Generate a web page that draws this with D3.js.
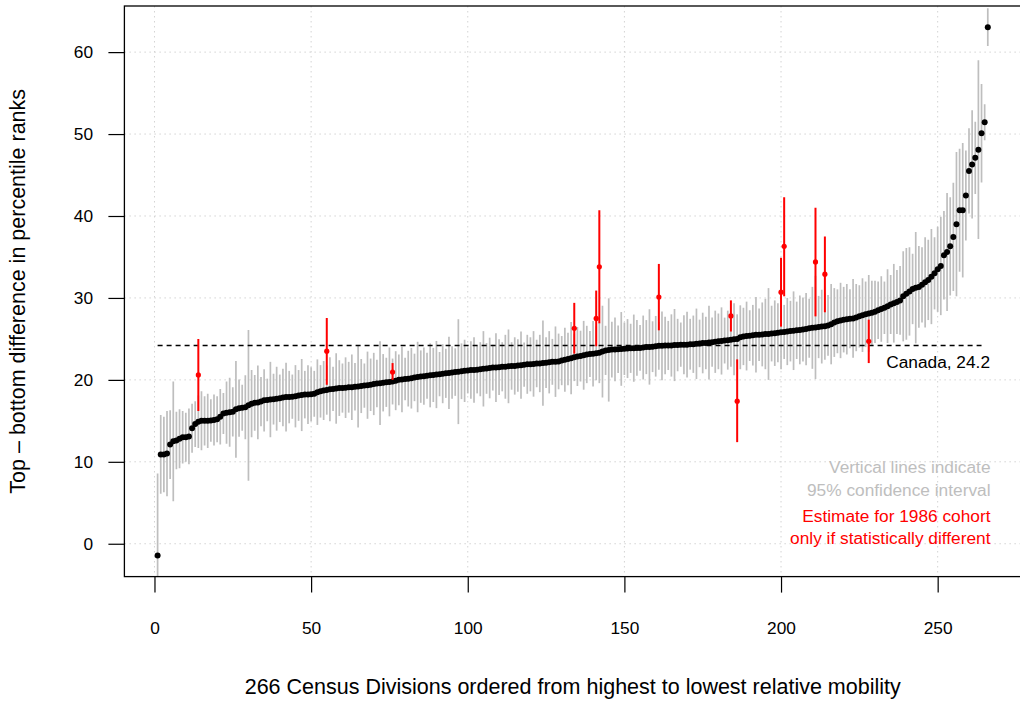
<!DOCTYPE html>
<html>
<head>
<meta charset="utf-8">
<script src="https://cdn.jsdelivr.net/npm/d3@7"></script>
<style>
  html, body { margin: 0; padding: 0; background: #fff; }
  svg { display: block; font-family: "Liberation Sans", Arial, Helvetica, sans-serif; }
</style>
</head>
<body>
<svg id="chart" width="1020" height="701"></svg>
<script>
// ---- data ----
const estimates = [
  -1.43, 10.9, 10.9, 11.0, 12.1, 12.5, 12.6, 12.8, 13.0, 13.0,
  13.1, 14.1, 14.6, 14.9, 15.0, 15.0, 15.0, 15.05, 15.1, 15.2,
  15.5, 15.9, 16.0, 16.05, 16.1, 16.4, 16.55, 16.6, 16.65, 16.9,
  17.1, 17.2, 17.25, 17.35, 17.5, 17.55, 17.6, 17.65, 17.7, 17.75,
  17.85, 17.9, 17.9, 17.95, 18.0, 18.1, 18.15, 18.2, 18.2, 18.25,
  18.3, 18.5, 18.6, 18.7, 18.75, 18.85, 18.9, 18.95, 19.0, 19.0,
  19.05, 19.1, 19.1, 19.15, 19.2, 19.25, 19.3, 19.35, 19.4, 19.5,
  19.55, 19.6, 19.65, 19.7, 19.75, 19.8, 19.9, 20.0, 20.05, 20.1,
  20.15, 20.2, 20.3, 20.35, 20.4, 20.45, 20.5, 20.55, 20.6, 20.65,
  20.7, 20.75, 20.8, 20.85, 20.9, 20.95, 21.0, 21.05, 21.1, 21.15,
  21.2, 21.2, 21.25, 21.3, 21.35, 21.4, 21.45, 21.5, 21.5, 21.55,
  21.6, 21.6, 21.65, 21.7, 21.7, 21.75, 21.8, 21.85, 21.9, 21.9,
  21.95, 22.0, 22.0, 22.05, 22.1, 22.15, 22.2, 22.22, 22.25, 22.35,
  22.45, 22.55, 22.65, 22.75, 22.85, 22.9, 23.0, 23.1, 23.15, 23.2,
  23.25, 23.3, 23.45, 23.6, 23.65, 23.7, 23.72, 23.75, 23.78, 23.8,
  23.82, 23.85, 23.87, 23.9, 23.9, 23.95, 24.0, 24.02, 24.05, 24.1,
  24.15, 24.15, 24.2, 24.2, 24.2, 24.25, 24.25, 24.3, 24.3, 24.3,
  24.35, 24.35, 24.4, 24.45, 24.5, 24.5, 24.55, 24.6, 24.65, 24.7,
  24.75, 24.8, 24.85, 24.9, 24.95, 25.0, 25.2, 25.3, 25.35, 25.4,
  25.45, 25.5, 25.5, 25.55, 25.6, 25.6, 25.65, 25.7, 25.75, 25.8,
  25.85, 25.9, 25.95, 26.0, 26.05, 26.1, 26.15, 26.2, 26.3, 26.35,
  26.4, 26.45, 26.5, 26.55, 26.65, 26.8, 27.0, 27.15, 27.25, 27.35,
  27.4, 27.45, 27.5, 27.6, 27.75, 27.9, 28.0, 28.1, 28.2, 28.3,
  28.5, 28.65, 28.8, 29.0, 29.2, 29.35, 29.5, 29.7, 30.2, 30.5,
  30.8, 31.1, 31.25, 31.35, 31.6, 31.9, 32.2, 32.6, 33.0, 33.5,
  33.9, 35.2, 35.6, 36.3, 37.45, 39.0, 40.7, 40.7, 42.5, 45.5,
  46.3, 47.1, 48.1, 50.1, 51.45, 63.05
];
// half-width of the 95% confidence interval
const margins = [
  10.0, 4.8, 4.6, 5.2, 4.2, 7.3, 3.5, 3.6, 3.2, 3.0,
  3.4, 3.0, 2.8, 3.2, 3.6, 3.0, 3.3, 2.6, 3.1, 2.8,
  3.4, 2.5, 3.8, 4.2, 3.0, 5.9, 3.5, 2.8, 3.9, 9.2,
  4.1, 3.4, 4.5, 3.0, 3.8, 2.6, 4.6, 3.1, 3.9, 2.9,
  3.5, 4.2, 3.2, 2.7, 3.8, 3.1, 4.4, 2.9, 3.6, 3.3,
  2.8, 4.0, 3.2, 3.6, 3.0, 3.9, 2.7, 4.3, 3.4, 3.0,
  3.7, 3.1, 4.0, 2.9, 5.0, 3.3, 2.7, 4.1, 3.2, 3.8,
  2.9, 5.1, 3.5, 3.0, 4.2, 2.8, 3.6, 3.1, 4.0, 2.6,
  3.4, 3.7, 2.9, 4.3, 3.2, 3.5, 2.8, 3.9, 3.3, 4.1,
  2.7, 3.6, 3.0, 4.4, 3.2, 2.9, 6.4, 3.4, 3.8, 2.8,
  3.5, 4.0, 2.9, 3.3, 4.6, 3.1, 3.7, 2.8, 4.2, 3.4,
  3.0, 3.9, 4.5, 2.9, 3.5, 3.2, 4.1, 2.7, 3.6, 3.3,
  4.0, 2.9, 3.5, 5.2, 3.1, 3.8, 2.8, 4.3, 3.4, 3.0,
  3.9, 3.2, 4.4, 2.9, 3.6, 3.1, 4.2, 3.5, 2.8, 4.0,
  3.3, 3.7, 5.6, 3.0, 6.3, 3.4, 3.9, 2.9, 4.5, 3.2,
  3.6, 3.0, 4.1, 3.4, 2.8, 3.9, 3.3, 4.6, 3.1, 3.7,
  2.9, 4.2, 3.5, 3.0, 3.8, 4.4, 3.2, 2.7, 3.6, 4.0,
  3.1, 3.5, 4.3, 2.9, 3.7, 3.2, 4.5, 3.0, 3.8, 3.4,
  4.1, 2.8, 3.6, 3.3, 4.4, 3.0, 3.9, 3.5, 4.2, 3.1,
  3.7, 4.6, 3.2, 3.9, 4.3, 5.6, 3.4, 4.0, 3.6, 4.5,
  3.3, 4.1, 3.7, 4.8, 3.5, 4.2, 3.9, 4.4, 3.6, 5.0,
  6.3, 3.8, 4.5, 4.1, 3.7, 4.9, 4.2, 3.9, 4.6, 4.0,
  4.3, 3.6, 4.8, 4.1, 3.8, 4.5, 4.0, 4.7, 3.9, 3.8,
  3.5, 4.0, 3.2, 4.5, 3.6, 4.8, 3.9, 4.2, 5.5, 5.6,
  5.4, 4.3, 6.8, 5.0, 4.6, 5.5, 4.9, 5.8, 4.4, 5.2,
  6.0, 5.4, 7.2, 6.0, 6.6, 8.8, 7.5, 8.2, 5.5, 5.2,
  6.6, 4.4, 10.9, 6.0, 2.2, 2.3
];
// 1986 cohort estimates, only where statistically different
const cohortRank = [14, 55, 76, 134, 141, 142, 161, 184, 186, 200, 201, 211, 214, 228];
const cohortEst  = [20.6, 23.5, 20.95, 26.3, 27.5, 33.8, 30.1, 27.8, 17.4, 30.7, 36.3, 34.4, 32.9, 24.7];
const cohortLow  = [16.2, 19.4, 20.0, 23.2, 24.1, 26.9, 26.05, 25.9, 12.4, 26.5, 30.2, 27.75, 28.25, 22.05];
const cohortHigh = [25.0, 27.55, 22.05, 29.4, 30.9, 40.7, 34.15, 29.7, 22.5, 34.9, 42.3, 41.0, 37.5, 27.35];
const canadaValue = 24.2;
const canadaFrom = 1, canadaTo = 264;
const xTickValues = [0, 50, 100, 150, 200, 250];
const yTickValues = [0, 10, 20, 30, 40, 50, 60];
const xTitle = "266 Census Divisions ordered from highest to lowest relative mobility";
const yTitle = "Top \u2013 bottom difference in percentile ranks";
const noteLines = ["Vertical lines indicate", "95% confidence interval",
                   "Estimate for 1986 cohort", "only if statistically different"];

// ---- layout ----
const svg = d3.select("#chart");
const plot = { left: 124.4, right: 1021, top: 6, bottom: 576.6 };
const FONT = "Liberation Sans, Arial, Helvetica, sans-serif";

const n = estimates.length;
const ranks = d3.range(1, n + 1);
const xr = [1, n], xpad = 0.04 * (xr[1] - xr[0]);
const yr = d3.extent(estimates), ypad = 0.04 * (yr[1] - yr[0]);

const x = d3.scaleLinear().domain([xr[0] - xpad, xr[1] + xpad]).range([plot.left, plot.right]);
const y = d3.scaleLinear().domain([yr[0] - ypad, yr[1] + ypad]).range([plot.bottom, plot.top]);

const GRAY = "#bebebe";
const RED = "#ff0000";

// clip
svg.append("defs").append("clipPath").attr("id", "clip")
  .append("rect").attr("x", plot.left).attr("y", plot.top)
  .attr("width", plot.right - plot.left).attr("height", plot.bottom - plot.top);

// grid
const grid = svg.append("g").attr("clip-path", "url(#clip)")
  .attr("stroke", "#d3d3d3").attr("stroke-width", 1).attr("stroke-dasharray", "1.5,3.5");
grid.selectAll("line.v").data(xTickValues).join("line").attr("class", "v")
  .attr("x1", d => x(d)).attr("x2", d => x(d)).attr("y1", plot.top).attr("y2", plot.bottom);
grid.selectAll("line.h").data(yTickValues).join("line").attr("class", "h")
  .attr("y1", d => y(d)).attr("y2", d => y(d)).attr("x1", plot.left).attr("x2", plot.right);

const g = svg.append("g").attr("clip-path", "url(#clip)");

// confidence intervals
g.append("g").attr("stroke", GRAY).attr("stroke-width", 1.7)
  .selectAll("line").data(ranks).join("line")
  .attr("x1", d => x(d)).attr("x2", d => x(d))
  .attr("y1", d => y(estimates[d - 1] - margins[d - 1]))
  .attr("y2", d => y(estimates[d - 1] + margins[d - 1]));

// Canada reference line
g.append("line")
  .attr("x1", x(canadaFrom)).attr("x2", x(canadaTo))
  .attr("y1", y(canadaValue)).attr("y2", y(canadaValue))
  .attr("stroke", "#000").attr("stroke-width", 1.4).attr("stroke-dasharray", "5,4");

// estimates
g.append("g").attr("fill", "#000")
  .selectAll("circle").data(ranks).join("circle")
  .attr("cx", d => x(d)).attr("cy", d => y(estimates[d - 1])).attr("r", 3);

// 1986 cohort
const red = g.append("g");
red.selectAll("line").data(cohortRank).join("line")
  .attr("x1", d => x(d)).attr("x2", d => x(d))
  .attr("y1", (d, i) => y(cohortLow[i])).attr("y2", (d, i) => y(cohortHigh[i]))
  .attr("stroke", RED).attr("stroke-width", 2);
red.selectAll("circle").data(cohortRank).join("circle")
  .attr("cx", d => x(d)).attr("cy", (d, i) => y(cohortEst[i])).attr("r", 2.6).attr("fill", RED);

// frame
svg.append("rect").attr("x", plot.left).attr("y", plot.top)
  .attr("width", plot.right - plot.left).attr("height", plot.bottom - plot.top)
  .attr("fill", "none").attr("stroke", "#000").attr("stroke-width", 1.3);

// x axis
const xAxis = d3.axisBottom(x).tickValues(xTickValues).tickSize(16).tickPadding(29).tickSizeOuter(0);
const xa = svg.append("g").attr("transform", `translate(0,${plot.bottom})`).call(xAxis);
xa.select(".domain").remove();
xa.selectAll("line").attr("stroke", "#000").attr("stroke-width", 1.2);
xa.selectAll("text").attr("font-size", 17.3).attr("fill", "#000").attr("font-family", FONT);

// y axis
const yAxis = d3.axisLeft(y).tickValues(yTickValues).tickSize(16).tickPadding(15.4).tickSizeOuter(0);
const ya = svg.append("g").attr("transform", `translate(${plot.left},0)`).call(yAxis);
ya.select(".domain").remove();
ya.selectAll("line").attr("stroke", "#000").attr("stroke-width", 1.2);
ya.selectAll("text").attr("font-size", 17.3).attr("fill", "#000").attr("font-family", FONT);

// titles
svg.append("text").attr("x", (plot.left + plot.right) / 2).attr("y", 688)
  .attr("text-anchor", "middle").attr("dominant-baseline", "middle")
  .attr("font-size", 21.5).text(xTitle);
svg.append("text")
  .attr("transform", `translate(19,${(plot.top + plot.bottom) / 2}) rotate(-90)`)
  .attr("text-anchor", "middle").attr("dominant-baseline", "middle")
  .attr("font-size", 21.5).text(yTitle);

// annotations
svg.append("text").attr("x", 990).attr("y", 363.5)
  .attr("text-anchor", "end").attr("dominant-baseline", "middle")
  .attr("font-size", 17.3).attr("fill", "#000").text("Canada, " + canadaValue);
const noteY = [468.3, 491, 517.7, 539.3];
const noteColor = [GRAY, GRAY, RED, RED];
svg.append("g").selectAll("text").data(noteLines).join("text")
  .attr("x", 990.5).attr("y", (d, i) => noteY[i])
  .attr("text-anchor", "end").attr("dominant-baseline", "middle")
  .attr("font-size", 17.3).attr("fill", (d, i) => noteColor[i]).text(d => d);
</script>
</body>
</html>
